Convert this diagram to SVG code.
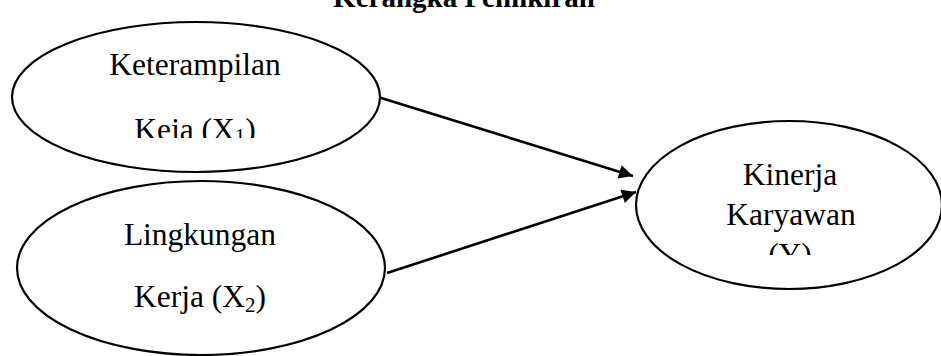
<svg xmlns="http://www.w3.org/2000/svg" width="941" height="356" viewBox="0 0 941 356">
  <style>
    .node { fill: #ffffff; stroke: #000000; stroke-width: 2.2; }
    .label { font-family: "Liberation Serif", "Times New Roman", serif; font-size: 31.5px; fill: #000000; text-anchor: middle; }
    .sub { font-size: 21px; }
    .title { font-family: "Liberation Serif", "Times New Roman", serif; font-size: 29px; font-weight: bold; fill: #000000; text-anchor: middle; }
    .edge { stroke: #000000; stroke-width: 2.6; fill: none; marker-end: url(#arrow); }
  </style>
  <defs>
    <marker id="arrow" viewBox="0 0 10 10" refX="10" refY="5" markerWidth="7.2" markerHeight="5.4" markerUnits="strokeWidth" orient="auto">
      <path d="M0,0 L10,5 L0,10 Z" fill="#000000"/>
    </marker>
    <clipPath id="clipX1"><rect x="0" y="0" width="941" height="138"/></clipPath>
    <clipPath id="clipY"><rect x="0" y="0" width="941" height="255"/></clipPath>
  </defs>
  <rect width="941" height="356" fill="#ffffff"/>

  <text class="title" x="464" y="7">Kerangka Pemikiran</text>

  <g id="connectors">
    <line class="edge" x1="378" y1="97" x2="633" y2="176"/>
    <line class="edge" x1="387" y1="273" x2="636" y2="192"/>
  </g>

  <g id="x1">
    <ellipse class="node" cx="196" cy="97" rx="184" ry="75"/>
    <text class="label" x="195" y="75">Keterampilan</text>
    <text class="label" x="195" y="140" clip-path="url(#clipX1)">Keja (X<tspan class="sub" dy="3">1</tspan><tspan dy="-3">)</tspan></text>
  </g>

  <g id="x2">
    <ellipse class="node" cx="201" cy="268" rx="184" ry="87"/>
    <text class="label" x="200" y="245">Lingkungan</text>
    <text class="label" x="200" y="307">Kerja (X<tspan class="sub" dy="5">2</tspan><tspan dy="-5">)</tspan></text>
  </g>

  <g id="y">
    <ellipse class="node" cx="789" cy="205" rx="153" ry="84"/>
    <text class="label" x="790" y="185">Kinerja</text>
    <text class="label" x="791" y="225">Karyawan</text>
    <text class="label" x="790" y="265" clip-path="url(#clipY)">(Y)</text>
  </g>
</svg>
